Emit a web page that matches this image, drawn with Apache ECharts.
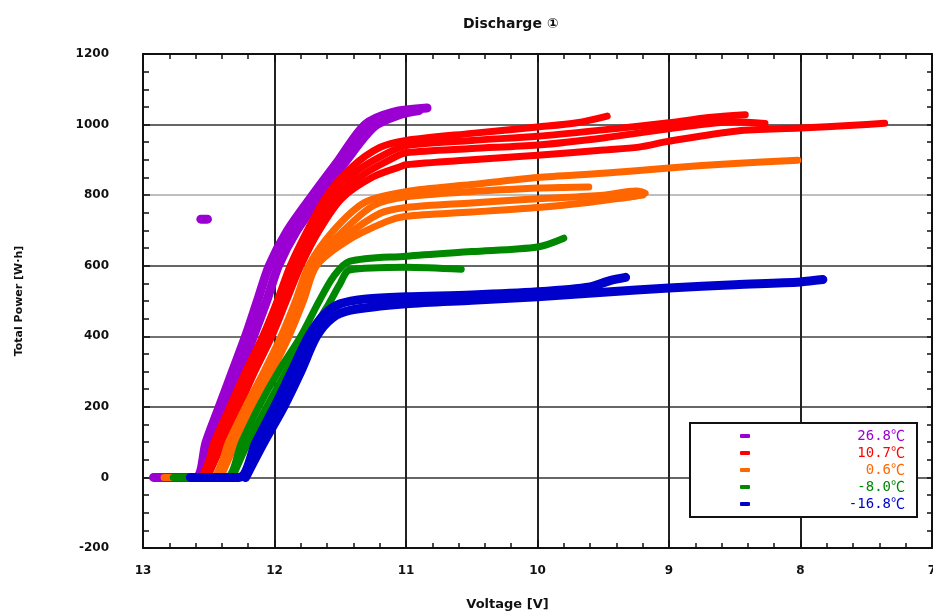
<!DOCTYPE html>
<html>
<head>
<meta charset="utf-8">
<script src="https://cdn.jsdelivr.net/npm/echarts@6/dist/echarts.min.js"></script>
<style>
  html, body { margin: 0; padding: 0; background: #fff; }
  #chart { width: 933px; height: 614px; }
</style>
</head>
<body>
<div id="chart"></div>
<script>
// voltage [V], total power [W·h]
var purpleA = [[12.92,0],[12.6,0],[12.52,100],[12.42,200],[12.32,300],[12.22,400],[12.13,500],[12.04,600],[11.9,700],[11.71,800],[11.51,900],[11.31,1000],[11.1,1035],[10.84,1047]];
var purpleB = [[12.55,0],[12.46,100],[12.36,200],[12.26,300],[12.16,400],[12.06,500],[11.97,600],[11.83,700],[11.64,800],[11.45,900],[11.24,995],[11.05,1028],[10.9,1040]];
var purpleDot = [[12.56,732],[12.51,732]];

var redA = [[12.8,0],[12.56,0],[12.46,100],[12.34,200],[12.22,300],[12.09,400],[11.98,500],[11.88,600],[11.75,700],[11.6,800],[11.41,880],[11.2,935],[11,955],[10.5,975],[10,993],[9.7,1005],[9.47,1024]];
var redB = [[12.55,0],[12.44,100],[12.32,200],[12.2,300],[12.07,400],[11.96,500],[11.85,600],[11.72,700],[11.56,800],[11.36,872],[11.15,918],[11,940],[10.5,955],[10,967],[9.5,985],[9,1005],[8.7,1020],[8.42,1028]];
var redC = [[12.53,0],[12.42,100],[12.3,200],[12.18,300],[12.05,400],[11.94,500],[11.83,600],[11.7,700],[11.53,795],[11.31,862],[11.1,905],[11,920],[10.5,932],[10,942],[9.5,962],[9,988],[8.5,1008],[8.27,1003]];
var redD = [[12.51,0],[12.39,100],[12.27,200],[12.15,300],[12.02,400],[11.91,500],[11.8,600],[11.66,700],[11.49,790],[11.26,850],[11.05,880],[11,886],[10.5,900],[10,913],[9.5,928],[9.23,936],[9,953],[8.48,982],[8,990],[7.6,998],[7.36,1004]];

var orangeA = [[12.84,0],[12.47,0],[12.35,100],[12.22,200],[12.08,300],[11.95,400],[11.84,500],[11.74,600],[11.55,700],[11.31,780],[11,810],[10.5,830],[10,850],[9.5,862],[9,877],[8.5,890],[8.02,899]];
var orangeB = [[12.45,0],[12.33,100],[12.2,200],[12.06,300],[11.93,400],[11.82,500],[11.72,600],[11.5,690],[11.25,770],[11,795],[10.5,810],[10,820],[9.8,822],[9.61,823]];
var orangeC = [[12.43,0],[12.31,100],[12.18,200],[12.04,300],[11.91,400],[11.8,500],[11.7,600],[11.47,680],[11.2,748],[11,765],[10.5,778],[10,790],[9.5,800],[9.25,812],[9.18,805],[9.3,795]];
var orangeD = [[12.41,0],[12.29,100],[12.16,200],[12.02,300],[11.89,400],[11.78,500],[11.68,600],[11.45,670],[11.15,725],[11,740],[10.5,752],[10,765],[9.6,780],[9.3,795],[9.2,800]];

var greenA = [[12.77,0],[12.37,0],[12.25,100],[12.12,200],[11.97,300],[11.8,400],[11.66,500],[11.55,570],[11.43,612],[11,627],[10.5,640],[10,653],[9.8,678]];
var greenB = [[12.32,0],[12.2,100],[12.06,200],[11.91,300],[11.74,400],[11.59,490],[11.5,550],[11.43,588],[11,596],[10.58,590]];

var blueA = [[12.64,0],[12.27,0],[12.14,100],[12.0,200],[11.87,300],[11.74,400],[11.62,462],[11.5,492],[11.3,506],[11,512],[10.5,517],[10,526],[9.6,540],[9.45,558],[9.33,567]];
var blueB = [[12.22,0],[12.08,100],[11.93,200],[11.8,300],[11.68,400],[11.56,452],[11.42,474],[11,492],[10.5,502],[10,512],[9.5,525],[9,537],[8.5,546],[8,554],[7.83,561]];

var temps = ["26.8℃", "10.7℃", "0.6℃", "-8.0℃", "-16.8℃"];
var colors = ["#9a00d2", "#ff0000", "#ff6600", "#008800", "#0000cc"];
var widths = [9, 7, 7, 7, 9];
var runs = [
  [purpleA, purpleB, purpleDot],
  [redA, redB, redC, redD],
  [orangeA, orangeB, orangeC, orangeD],
  [greenA, greenB],
  [blueA, blueB]
];

var labelFont = "'DejaVu Sans', 'Noto Sans CJK JP', sans-serif";

var series = [];
runs.forEach(function (group, i) {
  group.forEach(function (d) {
    series.push({
      name: temps[i],
      type: "line",
      data: d,
      showSymbol: false,
      smooth: 0.3,
      lineStyle: { color: colors[i], width: widths[i], cap: "round", join: "round" },
      itemStyle: { color: colors[i] },
      emphasis: { disabled: true }
    });
  });
});

var rich = {};
temps.forEach(function (t, i) {
  rich["t" + i] = {
    color: colors[i],
    width: 150,
    align: "right",
    fontSize: 14,
    fontFamily: "'DejaVu Sans Mono', 'Noto Sans CJK JP', monospace"
  };
});

var tickStyle = { color: "#111", width: 1.5 };

var option = {
  animation: false,
  backgroundColor: "#fff",
  title: {
    text: "Discharge ①",
    left: 458,
    top: 12,
    textStyle: { fontSize: 14, fontWeight: "bold", color: "#111", fontFamily: labelFont }
  },
  legend: {
    orient: "vertical",
    left: 690,
    top: 423,
    padding: [6, 12, 6, 50],
    itemGap: 3,
    itemWidth: 10,
    itemHeight: 4,
    icon: "roundRect",
    backgroundColor: "#fff",
    borderColor: "#111",
    borderWidth: 2,
    borderRadius: 0,
    data: temps,
    formatter: function (name) {
      return "{t" + temps.indexOf(name) + "|" + name + "}";
    },
    textStyle: { rich: rich }
  },
  grid: { left: 143, right: 1, top: 54, bottom: 66, containLabel: false, outerBoundsMode: "none" },
  xAxis: [
    {
      type: "value",
      inverse: true,
      min: 7,
      max: 13,
      interval: 1,
      name: "Voltage [V]",
      nameLocation: "middle",
      nameGap: 50,
      nameTextStyle: { fontSize: 13, fontWeight: "bold", color: "#111", fontFamily: labelFont, padding: [0, 60, 0, 0] },
      axisLine: { onZero: false, lineStyle: { color: "#111", width: 2 } },
      axisTick: { inside: true, length: 8, lineStyle: tickStyle },
      minorTick: { show: true, splitNumber: 5, length: 5, lineStyle: tickStyle },
      axisLabel: { margin: 17, fontSize: 12, fontWeight: "bold", color: "#111", fontFamily: labelFont },
      splitLine: { show: true, lineStyle: { color: "#222", width: 2 } }
    },
    {
      type: "value",
      inverse: true,
      position: "top",
      min: 7,
      max: 13,
      interval: 1,
      axisLine: { onZero: false, lineStyle: { color: "#111", width: 2 } },
      axisTick: { inside: true, length: 8, lineStyle: tickStyle },
      minorTick: { show: true, splitNumber: 5, length: 5, lineStyle: tickStyle },
      axisLabel: { show: false },
      splitLine: { show: false }
    }
  ],
  yAxis: [
    {
      type: "value",
      min: -200,
      max: 1200,
      interval: 200,
      name: "Total Power [W·h]",
      nameLocation: "middle",
      nameGap: 118,
      nameTextStyle: { fontSize: 11, fontWeight: "bold", color: "#111", fontFamily: labelFont },
      axisLine: { show: true, onZero: false, lineStyle: { color: "#111", width: 2 } },
      axisTick: { show: true, inside: true, length: 7, lineStyle: tickStyle },
      minorTick: { show: true, splitNumber: 4, length: 6, lineStyle: tickStyle },
      axisLabel: {
        margin: 34, fontSize: 12, fontWeight: "bold", color: "#111", fontFamily: labelFont,
        formatter: function (v) { return String(v); }
      },
      splitLine: {
        show: true,
        lineStyle: {
          color: ["#333", "#333", "#333", "#444", "#333", "#aaa", "#333", "#333"],
          width: 1.5
        }
      }
    },
    {
      type: "value",
      position: "right",
      min: -200,
      max: 1200,
      interval: 200,
      axisLine: { show: true, onZero: false, lineStyle: { color: "#111", width: 2 } },
      axisTick: { show: true, inside: true, length: 5, lineStyle: tickStyle },
      minorTick: { show: true, splitNumber: 4, length: 5, lineStyle: tickStyle },
      axisLabel: { show: false },
      splitLine: { show: false }
    }
  ],
  series: series
};

var chart = echarts.init(document.getElementById("chart"));
chart.setOption(option);
</script>
</body>
</html>
